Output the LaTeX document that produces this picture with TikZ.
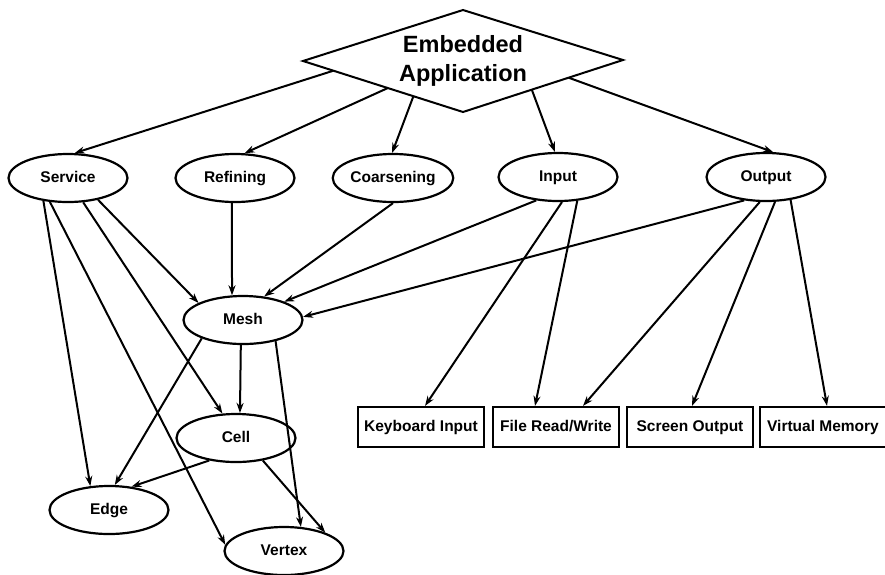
\documentclass[tikz,border=0pt]{standalone}
\usepackage{fontspec}
\setmainfont{Liberation Sans}
\usetikzlibrary{shapes.geometric,arrows.meta,calc}
\tikzset{
  ell/.style={ellipse,draw,line width=2.2pt,minimum width=119pt,minimum height=48pt,inner sep=0pt,text height=11pt,text depth=3pt,font=\fontsize{15.5}{17}\selectfont\bfseries},
  bx/.style={rectangle,draw,line width=2.2pt,minimum width=126pt,minimum height=40pt,inner sep=0pt,text height=11pt,text depth=3pt,font=\fontsize{15.5}{17}\selectfont\bfseries},
  conn/.style={line width=2pt,-{Stealth[length=10pt,width=7pt]}}
}
\begin{document}
\begin{tikzpicture}[x=1pt,y=-1pt]
\useasboundingbox (0,0) rectangle (885,574);
\coordinate (dT) at (463,10);
\coordinate (dW) at (303,61);
\coordinate (dS) at (463,112);
\coordinate (dE) at (623,60);
\draw[line width=2pt,line join=miter] (dT) -- (dW) -- (dS) -- (dE) -- cycle;
\node[align=center,font=\fontsize{23.5}{29}\selectfont\bfseries] (app) at (463,61) {Embedded\\Application};
\node[ell] (svc) at (68,178) {Service};
\node[ell] (ref) at (235,178) {Refining};
\node[ell] (coa) at (393,178) {Coarsening};
\node[ell] (inp) at (558,177) {Input};
\node[ell] (out) at (766,177) {Output};
\node[ell] (mesh) at (243,320) {Mesh};
\node[ell] (cell) at (236,438) {Cell};
\node[ell] (edge) at (109,510) {Edge};
\node[ell] (vert) at (284,551) {Vertex};
\node[bx] (kb) at (421,427) {Keyboard Input};
\node[bx] (file) at (556,427) {File Read/Write};
\node[bx] (scr) at (690,427) {Screen Output};
\node[bx] (vm) at (823,427) {Virtual Memory};
% from application
\draw[conn] ($(dW)!0.19!(dS)$) -- (svc.75);
\draw[conn] ($(dW)!0.53!(dS)$) -- (ref.69);
\draw[conn] ($(dW)!0.69!(dS)$) -- (coa.92);
\draw[conn] ($(dS)!0.43!(dE)$) -- (inp.97);
\draw[conn] ($(dS)!0.66!(dE)$) -- (out.74);
% service
\draw[conn] (svc.223) -- (edge.128);
\draw[conn] (svc.233) -- (vert.174);
\draw[conn] (svc.302) -- (cell.119);
\draw[conn] (svc.324) -- (mesh.159);
% to mesh
\draw[conn] (ref.263) -- (mesh.114);
\draw[conn] (coa.270) -- (mesh.48);
\draw[conn] (inp.227) -- (mesh.24);
\draw[conn] (out.227) -- (mesh.3);
% input / output to boxes
\draw[conn] (inp.279) -- ([xshift=4pt]kb.north);
\draw[conn] (inp.309) -- ([xshift=-21pt]file.north);
\draw[conn] (out.256) -- ([xshift=27pt]file.north);
\draw[conn] (out.290) -- ([xshift=2pt]scr.north);
\draw[conn] (out.317) -- ([xshift=4pt]vm.north);
% mesh
\draw[conn] (mesh.204) -- (edge.77);
\draw[conn] (mesh.265) -- (cell.81);
\draw[conn] (mesh.327) -- (vert.55);
% cell
\draw[conn] (cell.220) -- (edge.46);
\draw[conn] (cell.320) -- (vert.24);
\end{tikzpicture}
\end{document}
